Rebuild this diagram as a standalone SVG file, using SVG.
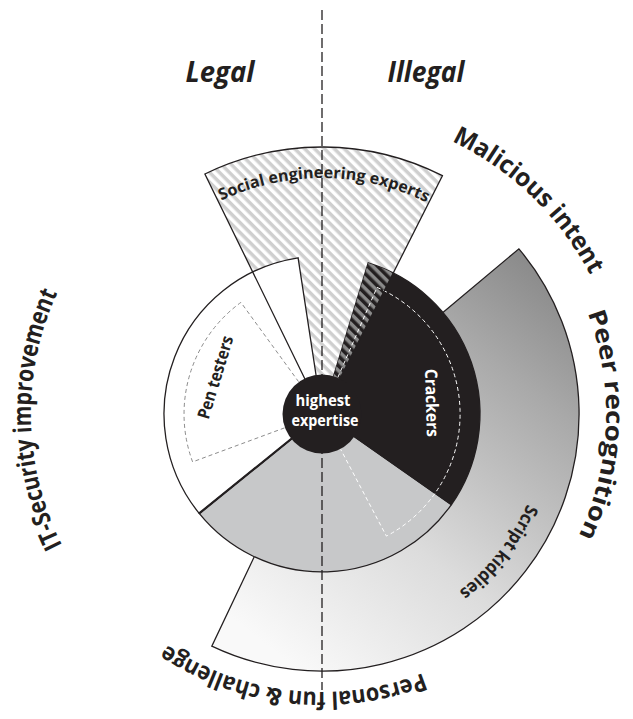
<svg xmlns="http://www.w3.org/2000/svg" width="633" height="719" viewBox="0 0 633 719">
  <style>
    .t { font-family: "Open Sans", "Noto Sans", "DejaVu Sans", sans-serif; font-weight: 700; fill: #231f20; }
    .w { fill: #ffffff; }
    .lbl { font-size: 25px; }
    .ol { stroke: #231f20; stroke-width: 1.3; stroke-linejoin: miter; }
    .dash-g { fill: none; stroke: #8c8c8c; stroke-width: 1; stroke-dasharray: 4 3; }
    .dash-w { fill: none; stroke: #ffffff; stroke-width: 1; stroke-dasharray: 4 3; }
  </style>
  <defs>
    <pattern id="stripes" patternUnits="userSpaceOnUse" width="7" height="7" patternTransform="rotate(45)">
      <rect width="7" height="7" fill="#ffffff"/>
      <rect width="7" height="3.5" fill="#cfcfcf"/>
    </pattern>
    <pattern id="stripesDark" patternUnits="userSpaceOnUse" width="7" height="7" patternTransform="rotate(45)">
      <rect width="7" height="3.5" fill="#8a8a8a"/>
    </pattern>
    <linearGradient id="skGrad" gradientUnits="userSpaceOnUse" x1="560" y1="260" x2="260" y2="640">
      <stop offset="0" stop-color="#858585"/>
      <stop offset="0.25" stop-color="#a9a9a9"/>
      <stop offset="0.65" stop-color="#dcdcdc"/>
      <stop offset="1" stop-color="#f9f9f9"/>
    </linearGradient>
    <path id="arcSE" d="M 118.7 294.2 A 236 236 0 0 1 527.4 297.8"/>
    <path id="arcMal" d="M 238.8 123.7 A 302 302 0 0 1 615.0 487.1"/>
    <path id="arcPeer" d="M 473.8 173.9 A 284 284 0 0 1 454.0 665.5"/>
    <path id="arcFun" d="M 546.0 578.6 A 278 278 0 0 1 67.4 525.7"/>
    <path id="arcIT" d="M 181.4 668.8 A 291 291 0 0 1 171.7 164.8"/>
    <path id="arcSK" d="M 529.7 330.1 A 224 224 0 0 1 290.8 635.8"/>
  </defs>

  <g id="script-kiddies">
    <path class="ol" fill="url(#skGrad)" d="M 442.3 313.1 L 518.9 248.8 A 257 257 0 0 1 211.8 646.2 L 254.7 555.8 A 157 157 0 0 0 442.3 313.1 Z"/>
    <text class="t" font-size="18" text-anchor="middle"><textPath href="#arcSK" startOffset="50%" textLength="112" lengthAdjust="spacingAndGlyphs">Script kiddies</textPath></text>
  </g>

  <g id="social-engineering-experts">
    <path fill="url(#stripes)" d="M 322 414 L 204.9 174.0 A 267 267 0 0 1 442.4 175.7 Z"/>
  </g>

  <g id="personal-fun-sector">
    <path class="ol" fill="#c7c8c9" d="M 322 414 L 451.4 504.6 A 158 158 0 0 1 199.2 513.4 Z"/>
  </g>

  <g id="crackers">
    <path fill="#231f20" stroke="#231f20" stroke-width="1.3" d="M 322 414 L 368.2 262.9 A 158 158 0 0 1 451.4 504.6 Z"/>
    <path fill="url(#stripesDark)" d="M 322 414 L 368.2 262.9 A 158 158 0 0 1 393.2 273.0 Z"/>
    <path class="dash-w" d="M 337.9 377.3 L 377.0 287.4 A 138 138 0 0 1 386.4 536.1 L 340.7 449.4"/>
    <text class="t w" font-size="17" text-anchor="middle" transform="translate(426,403) rotate(88.4)" textLength="68" lengthAdjust="spacingAndGlyphs">Crackers</text>
  </g>

  <g id="pen-testers">
    <path class="ol" fill="#ffffff" d="M 322 414 L 199.2 513.4 A 158 158 0 0 1 298.1 257.8 Z"/>
    <line x1="322" y1="414" x2="199.2" y2="513.4" stroke="#231f20" stroke-width="2.2"/>
    <path class="dash-g" d="M 284.5 427.9 L 192.6 461.9 A 138 138 0 0 1 240.9 302.4 L 298.5 381.6"/>
    <text class="t" font-size="17" text-anchor="middle" transform="translate(221,379) rotate(-73)" textLength="86" lengthAdjust="spacingAndGlyphs">Pen testers</text>
  </g>

  <g id="social-engineering-outline">
    <path class="ol" fill="none" d="M 322 414 L 204.9 174.0 A 267 267 0 0 1 442.4 175.7 Z"/>
    <text class="t" font-size="16" text-anchor="middle"><textPath href="#arcSE" startOffset="50%" textLength="212" lengthAdjust="spacingAndGlyphs">Social engineering experts</textPath></text>
  </g>

  <g id="connectors">
    <line x1="322" y1="10" x2="322" y2="690" stroke="#231f20" stroke-width="1.3" stroke-dasharray="10 4"/>
  </g>

  <g id="highest-expertise">
    <circle cx="322" cy="414" r="39.5" fill="#231f20"/>
    <text class="t w" font-size="16" x="323" y="406" text-anchor="middle" textLength="55" lengthAdjust="spacingAndGlyphs">highest</text>
    <text class="t w" font-size="16" x="325" y="426" text-anchor="middle" textLength="67" lengthAdjust="spacingAndGlyphs">expertise</text>
  </g>

  <g id="legal">
    <text class="t" font-size="28" font-style="italic" x="220" y="82" text-anchor="middle" textLength="69" lengthAdjust="spacingAndGlyphs">Legal</text>
  </g>
  <g id="illegal">
    <text class="t" font-size="28" font-style="italic" x="426" y="82" text-anchor="middle" textLength="77" lengthAdjust="spacingAndGlyphs">Illegal</text>
  </g>

  <g id="malicious-intent">
    <text class="t lbl" text-anchor="middle"><textPath href="#arcMal" startOffset="50%" textLength="196" lengthAdjust="spacingAndGlyphs">Malicious intent</textPath></text>
  </g>
  <g id="peer-recognition">
    <text class="t" font-size="24" text-anchor="middle"><textPath href="#arcPeer" startOffset="50%" textLength="229" lengthAdjust="spacingAndGlyphs">Peer recognition</textPath></text>
  </g>
  <g id="personal-fun-challenge">
    <text class="t" font-size="24" text-anchor="middle"><textPath href="#arcFun" startOffset="50%" textLength="268" lengthAdjust="spacingAndGlyphs">Personal fun &amp; challenge</textPath></text>
  </g>
  <g id="it-security-improvement">
    <text class="t lbl" text-anchor="middle"><textPath href="#arcIT" startOffset="50%" textLength="261" lengthAdjust="spacingAndGlyphs">IT-Security improvement</textPath></text>
  </g>
</svg>
